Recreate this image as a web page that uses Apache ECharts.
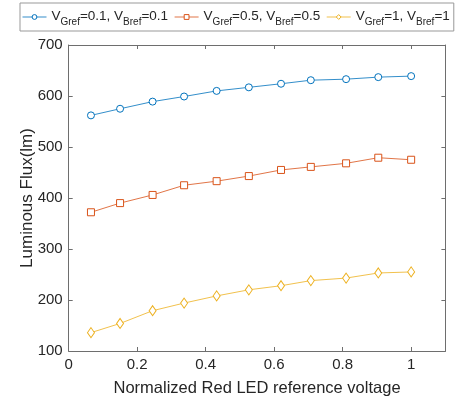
<!DOCTYPE html>
<html><head><meta charset="utf-8">
<script src="https://cdn.jsdelivr.net/npm/echarts@6/dist/echarts.min.js"></script>
<style>html,body{margin:0;padding:0;background:#fff}#c{width:461px;height:396px}</style>
</head><body><div id="c"></div>
<script>
const xValues = [0.065, 0.15, 0.245, 0.337, 0.432, 0.526, 0.62, 0.707, 0.81, 0.904, 1.0];
const seriesA = [562, 575, 589, 599, 610, 617, 624, 631, 633, 637, 639];
const seriesB = [372, 390, 406, 425, 433, 443, 455, 461, 468, 479, 475];
const seriesC = [136, 154, 179, 194, 208, 220, 228, 238, 243, 253, 255];
const seriesNames = ['A', 'B', 'C'];
const legendLabels = {
  A: ['0.1', '0.1'],
  B: ['0.5', '0.5'],
  C: ['1', '1']
};
const xTicks = [0, 0.2, 0.4, 0.6, 0.8, 1];
const yTicks = [100, 200, 300, 400, 500, 600, 700];

const colors = ['#0072BD', '#D95319', '#EDB120'];
const symbols = ['circle', 'rect', 'diamond'];
const font = 'Liberation Sans, Arial, sans-serif';
const axisColor = '#6e6e6e';

function pairs(vals) { return vals.map((v, i) => [xValues[i], v]); }
const allData = [seriesA, seriesB, seriesC];

const chart = echarts.init(document.getElementById('c'), null, {renderer: 'canvas'});
const baseX = {
  type: 'value', min: 0, max: 1.1, interval: 0.2,
  axisLine: {show: true, onZero: false, lineStyle: {color: axisColor, width: 1}},
  axisTick: {show: true, inside: true, length: 4, lineStyle: {color: axisColor}},
  splitLine: {show: false}
};
const baseY = {
  type: 'value', min: 100, max: 700, interval: 100,
  axisLine: {show: true, onZero: false, lineStyle: {color: axisColor, width: 1}},
  axisTick: {show: true, inside: true, length: 4, lineStyle: {color: axisColor}},
  splitLine: {show: false}
};
chart.setOption({
  animation: false,
  backgroundColor: '#fff',
  grid: {left: 68.7, right: 15.6, top: 45, bottom: 45, containLabel: false, outerBoundsMode: 'none'},
  legend: {
    left: 20, top: 3, orient: 'horizontal',
    borderColor: '#999', borderWidth: 1, borderRadius: 0,
    backgroundColor: '#fff',
    padding: [3, 4, 4, 2],
    itemGap: 6, itemWidth: 24, itemHeight: 6,
    lineStyle: {width: 1},
    itemStyle: {borderWidth: 1},
    data: seriesNames,
    formatter: function (n) {
      const l = legendLabels[n];
      return '{a|V}{s|Gref}{a|=' + l[0] + ', V}{s|Bref}{a|=' + l[1] + '}';
    },
    textStyle: {
      fontFamily: font, color: '#262626',
      rich: {
        a: {fontSize: 13.5, fontFamily: font, color: '#262626', lineHeight: 22, verticalAlign: 'top', padding: [3, 0, 0, 0]},
        s: {fontSize: 10, fontFamily: font, color: '#262626', lineHeight: 22, verticalAlign: 'top', padding: [11, 0, 0, 0]}
      }
    }
  },
  xAxis: [
    Object.assign({}, baseX, {
      position: 'bottom',
      name: 'Normalized Red LED reference voltage', nameLocation: 'middle', nameGap: 29,
      nameMoveOverlap: false,
      nameTextStyle: {fontFamily: font, fontSize: 16.5, color: '#262626'},
      axisLabel: {show: true, margin: 6, fontFamily: font, fontSize: 15, color: '#262626',
        formatter: v => xTicks.includes(Math.round(v * 10) / 10) ? String(Math.round(v * 10) / 10) : ''}
    }),
    Object.assign({}, baseX, {position: 'top', axisLabel: {show: false}})
  ],
  yAxis: [
    Object.assign({}, baseY, {
      position: 'left',
      name: 'Luminous Flux(lm)', nameLocation: 'middle', nameGap: 33,
      nameMoveOverlap: false,
      nameTextStyle: {fontFamily: font, fontSize: 17, color: '#262626'},
      axisLabel: {show: true, margin: 6, fontFamily: font, fontSize: 15, color: '#262626',
        formatter: v => yTicks.includes(v) ? String(v) : ''}
    }),
    Object.assign({}, baseY, {position: 'right', axisLabel: {show: false}})
  ],
  series: seriesNames.map((n, i) => ({
    name: n, type: 'line', xAxisIndex: 0, yAxisIndex: 0,
    data: pairs(allData[i]),
    symbol: symbols[i], symbolSize: i === 2 ? [7, 10] : 7,
    showAllSymbol: true,
    lineStyle: {color: colors[i], width: 1, opacity: 0.8},
    itemStyle: {color: '#fff', borderColor: colors[i], borderWidth: 1},
    emphasis: {disabled: true}
  }))
});
</script></body></html>
